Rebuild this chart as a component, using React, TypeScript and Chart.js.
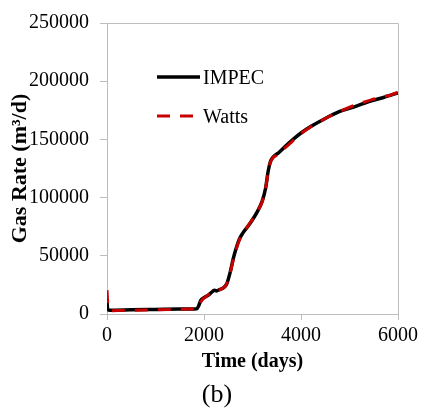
import React, { useEffect, useRef } from "react";
import { Chart, registerables } from "chart.js";

Chart.register(...registerables);

const impecTime = [0, 15, 60, 500, 1000, 1500, 1850, 1890, 1930, 2000, 2100, 2180, 2220, 2260, 2320, 2400, 2470, 2540, 2600, 2660, 2720, 2800, 2900, 3000, 3100, 3200, 3270, 3320, 3370, 3420, 3550, 3700, 3850, 4000, 4200, 4500, 4800, 5100, 5400, 5700, 6000];
const impecRate = [11000, 3800, 3300, 3600, 3900, 4200, 4500, 7000, 11500, 14000, 16500, 19500, 20500, 19800, 21000, 22500, 26000, 36000, 47000, 56000, 63500, 69500, 75000, 81000, 88000, 97000, 108000, 122000, 131000, 134500, 139000, 145000, 150500, 155500, 161000, 168000, 174000, 178000, 182500, 186000, 190000];

const wattsTime = [0, 20, 70, 300, 800, 1300, 1800, 1870, 1920, 1980, 2060, 2150, 2230, 2300, 2380, 2460, 2530, 2600, 2670, 2740, 2820, 2920, 3020, 3120, 3220, 3290, 3340, 3400, 3500, 3650, 3800, 4000, 4250, 4550, 4850, 5150, 5450, 5650, 5800, 6000];
const wattsRate = [20500, 7000, 2800, 3000, 3500, 3900, 4400, 5000, 9500, 13000, 15500, 18500, 20000, 20500, 22000, 25000, 33500, 46000, 56500, 64500, 70500, 76500, 82500, 89500, 99000, 113000, 126000, 133000, 136500, 142000, 147500, 155000, 162000, 169000, 175000, 180000, 184000, 186500, 187500, 190500];

const seriesLabels = ["IMPEC", "Watts"];
const xTicks = [0, 2000, 4000, 6000];
const yTicks = [0, 50000, 100000, 150000, 200000, 250000];
const caption = "(b)";

const FONT = "'Liberation Serif', 'Times New Roman', serif";
const AXIS = "#bdbdbd";

const framePlugin = {
  id: "frame",
  beforeDatasetsDraw(chart: any) {
    const { ctx, chartArea: a } = chart;
    ctx.save();
    ctx.strokeStyle = AXIS;
    ctx.lineWidth = 1;
    ctx.beginPath();
    ctx.moveTo(a.left, a.top + 0.5);
    ctx.lineTo(a.right + 0.5, a.top + 0.5);
    ctx.lineTo(a.right + 0.5, a.bottom);
    ctx.stroke();
    ctx.restore();
  },
};

const legendPlugin = {
  id: "customLegend",
  afterDatasetsDraw(chart: any) {
    const { ctx } = chart;
    const items = chart.data.datasets;
    const x0 = 157;
    const x1 = 200;
    const ys = [77, 116];
    ctx.save();
    items.forEach((ds: any, i: number) => {
      const y = ys[i];
      ctx.strokeStyle = ds.borderColor;
      ctx.lineWidth = ds.borderWidth;
      ctx.setLineDash(ds.borderDash || []);
      ctx.beginPath();
      ctx.moveTo(x0, y);
      ctx.lineTo(x1, y);
      ctx.stroke();
      ctx.setLineDash([]);
      ctx.fillStyle = "#000";
      ctx.font = `20px ${FONT}`;
      ctx.textBaseline = "middle";
      ctx.textAlign = "left";
      ctx.fillText(ds.label, x1 + 3, y + 1.5);
    });
    ctx.fillStyle = "#000";
    ctx.font = `26px ${FONT}`;
    ctx.textAlign = "center";
    ctx.textBaseline = "middle";
    ctx.fillText(caption, 217, 395);
    ctx.restore();
  },
};

export default function App() {
  const ref = useRef<HTMLCanvasElement>(null);
  useEffect(() => {
    if (!ref.current) return;
    const chart = new Chart(ref.current, {
      type: "line",
      data: {
        datasets: [
          {
            label: seriesLabels[0],
            data: impecTime.map((t, i) => ({ x: t, y: impecRate[i] })),
            borderColor: "#000000",
            borderWidth: 3.5,
            pointRadius: 0,
            order: 1,
            cubicInterpolationMode: "monotone",
          },
          {
            label: seriesLabels[1],
            data: wattsTime.map((t, i) => ({ x: t, y: wattsRate[i] })),
            borderColor: "#c80000",
            borderWidth: 3,
            borderDash: [13, 10],
            pointRadius: 0,
            order: 0,
            cubicInterpolationMode: "monotone",
          },
        ],
      },
      options: {
        animation: false,
        responsive: false,
        layout: { padding: { top: 21, right: 22, left: 0, bottom: 28.4 } },
        plugins: {
          legend: { display: false },
          tooltip: { enabled: false },
        },
        scales: {
          x: {
            type: "linear",
            min: 0,
            max: 6000,
            afterBuildTicks: (s: any) => {
              s.ticks = xTicks.map((v) => ({ value: v }));
            },
            afterFit: (s: any) => {
              s.height = 66.6;
            },
            grid: { drawOnChartArea: false, drawTicks: true, tickLength: 6, color: AXIS },
            border: { color: AXIS, width: 1 },
            ticks: {
              color: "#000",
              padding: 4,
              maxRotation: 0,
              font: { family: FONT, size: 20 },
              callback: (v: any) => String(v),
            },
            title: {
              display: true,
              text: "Time (days)",
              color: "#000",
              font: { family: FONT, size: 20, weight: "bold" },
              padding: { top: 0, bottom: 6.6 },
            },
          },
          y: {
            type: "linear",
            min: 0,
            max: 250000,
            afterBuildTicks: (s: any) => {
              s.ticks = yTicks.map((v) => ({ value: v }));
            },
            afterFit: (s: any) => {
              s.width = 107;
            },
            grid: { drawOnChartArea: false, drawTicks: true, tickLength: 7, color: AXIS },
            border: { color: AXIS, width: 1 },
            ticks: {
              color: "#000",
              padding: 11,
              font: { family: FONT, size: 20 },
              callback: (v: any) => String(v),
            },
            title: {
              display: true,
              text: "Gas Rate (m³/d)",
              color: "#000",
              font: { family: FONT, size: 22, weight: "bold" },
              padding: { top: 7, bottom: 0 },
            },
          },
        },
      } as any,
      plugins: [framePlugin, legendPlugin],
    });
    return () => chart.destroy();
  }, []);
  return (
    <div style={{ position: "absolute", left: 0, top: 0, width: 422, height: 409, background: "#fff" }}>
      <canvas ref={ref} width={422} height={409} style={{ width: 422, height: 409, display: "block" }} />
    </div>
  );
}
